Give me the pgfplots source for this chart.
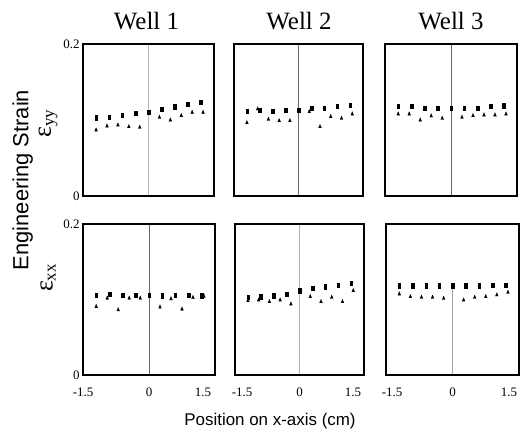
\documentclass[border=0pt]{standalone}
\usepackage{fontspec}
\setmainfont{Liberation Serif}
\setsansfont{Liberation Sans}
\usepackage{pgfplots}
\pgfplotsset{compat=1.18}
\pgfplotsset{
  panel/.style={scale only axis, xmin=-1.5, xmax=1.5, ymin=0, ymax=0.2, clip=false,
    axis line style={draw=none}, tick style={draw=none},
    xtick={-1.5,0,1.5}, ytick={0,0.2}, xticklabels={}, yticklabels={},
    yticklabel style={font=\fontsize{13}{13}\selectfont},
    xticklabel style={font=\fontsize{13}{13}\selectfont, yshift=-9bp},
    execute at end axis={\draw[line width=2.6bp, black] (rel axis cs:0,0) rectangle (rel axis cs:1,1);},
    anchor=south west},
  sq/.style={only marks, mark=square*, mark size=1.25bp, mark options={yscale=1.7, fill=black, draw=black, line width=0.3bp, solid}},
  tri/.style={only marks, mark=triangle*, mark size=1.6bp, mark options={yscale=1.4, fill=black, draw=black, line width=0.3bp, solid}},
  zline/.style={line width=0.8bp, no marks}
}
\begin{document}
\begin{tikzpicture}
\path[use as bounding box] (0,0) rectangle (525bp,437bp);
% ---------- top row ----------
\begin{axis}[panel, at={(83bp,241bp)}, width=131bp, height=152bp, yticklabels={0,0.2}]
\addplot[zline, gray!55] coordinates {(0,0) (0,0.2)};
\addplot[sq] coordinates {(-1.2,0.103) (-0.9,0.1035) (-0.6,0.106) (-0.3,0.109) (0,0.1105) (0.3,0.1145) (0.6,0.1175) (0.9,0.121) (1.2,0.1235)};
\addplot[tri] coordinates {(-1.2,0.0868) (-0.95,0.0921) (-0.7,0.0934) (-0.45,0.0912) (-0.2,0.0904) (0.25,0.1035) (0.5,0.100) (0.75,0.1057) (1.0,0.110) (1.25,0.110)};
\end{axis}
\begin{axis}[panel, at={(234bp,241bp)}, width=129bp, height=152bp]
\addplot[zline, gray!80!black] coordinates {(0,0) (0,0.2)};
\addplot[sq] coordinates {(-1.2,0.112) (-0.9,0.113) (-0.6,0.112) (-0.3,0.113) (0,0.113) (0.3,0.1155) (0.6,0.116) (0.9,0.118) (1.2,0.120)};
\addplot[tri] coordinates {(-1.2,0.0965) (-0.95,0.1145) (-0.7,0.1009) (-0.45,0.0991) (-0.2,0.0991) (0.25,0.111) (0.5,0.0912) (0.75,0.1044) (1.0,0.1022) (1.25,0.1079)};
\end{axis}
\begin{axis}[panel, at={(385bp,241bp)}, width=132bp, height=152bp]
\addplot[zline, gray!80!black] coordinates {(0,0) (0,0.2)};
\addplot[sq] coordinates {(-1.2,0.118) (-0.9,0.118) (-0.6,0.116) (-0.3,0.116) (0,0.116) (0.3,0.116) (0.6,0.116) (0.9,0.118) (1.2,0.119)};
\addplot[tri] coordinates {(-1.2,0.1079) (-0.95,0.1079) (-0.7,0.100) (-0.45,0.1053) (-0.2,0.1022) (0.25,0.1035) (0.5,0.1057) (0.75,0.1066) (1.0,0.1066) (1.25,0.1079)};
\end{axis}
% ---------- bottom row ----------
\begin{axis}[panel, at={(83bp,62bp)}, width=132bp, height=151bp, yticklabels={0,0.2},
  xticklabels={-1.5,0,{1.5\hspace*{24bp}}}]
\addplot[zline, gray!80!black] coordinates {(0,0) (0,0.2)};
\addplot[sq] coordinates {(-1.2,0.106) (-0.9,0.1073) (-0.6,0.106) (-0.3,0.106) (0,0.106) (0.3,0.105) (0.6,0.106) (0.9,0.106) (1.2,0.105)};
\addplot[tri] coordinates {(-1.2,0.0907) (-0.95,0.1018) (-0.7,0.0863) (-0.45,0.1018) (-0.2,0.1018) (0.25,0.0899) (0.5,0.1009) (0.75,0.0872) (1.0,0.1026) (1.25,0.104)};
\end{axis}
\begin{axis}[panel, at={(235bp,62bp)}, width=129bp, height=151bp,
  xticklabels={{\hspace*{14bp}-1.5},0,{1.5\hspace*{22bp}}}]
\addplot[zline, gray!60] coordinates {(0,0) (0,0.2)};
\addplot[sq] coordinates {(-1.2,0.1029) (-0.9,0.1037) (-0.6,0.105) (-0.3,0.1073) (0,0.1117) (0.3,0.1148) (0.6,0.117) (0.9,0.1192) (1.2,0.1214)};
\addplot[tri] coordinates {(-1.2,0.0984) (-0.95,0.0993) (-0.7,0.0971) (-0.45,0.0993) (-0.2,0.094) (0.25,0.1037) (0.5,0.0971) (0.75,0.1029) (1.0,0.0971) (1.25,0.1117)};
\end{axis}
\begin{axis}[panel, at={(386bp,62bp)}, width=133bp, height=151bp,
  xticklabels={{\hspace*{12bp}-1.5},0,{1.5\hspace*{20bp}}}]
\addplot[zline, gray!70] coordinates {(0,0) (0,0.117)};
\addplot[sq] coordinates {(-1.2,0.1183) (-0.9,0.1183) (-0.6,0.1183) (-0.3,0.1183) (0,0.1183) (0.3,0.1183) (0.6,0.1183) (0.9,0.1192) (1.2,0.1192)};
\addplot[tri] coordinates {(-1.2,0.1073) (-0.95,0.1037) (-0.7,0.1029) (-0.45,0.1029) (-0.2,0.1015) (0.25,0.0993) (0.5,0.1029) (0.75,0.1037) (1.0,0.106) (1.25,0.1095)};
\end{axis}
% ---------- labels ----------
\node[anchor=base, font=\fontsize{25}{25}\selectfont] at (146.5bp,407.7bp) {Well 1};
\node[anchor=base, font=\fontsize{25}{25}\selectfont] at (299bp,407.7bp) {Well 2};
\node[anchor=base, font=\fontsize{25}{25}\selectfont] at (451bp,407.7bp) {Well 3};
\node[rotate=90, anchor=base, font=\sffamily\fontsize{22}{22}\selectfont] at (28.4bp,257bp) {Engineering Strain};
\node[rotate=90, font=\fontsize{26}{26}\selectfont, inner sep=0pt] at (48bp,313.5bp) {ε\raisebox{-3bp}{\fontsize{17}{17}\selectfont yy}};
\node[rotate=90, font=\fontsize{26}{26}\selectfont, inner sep=0pt] at (48bp,159bp) {ε\raisebox{-3bp}{\fontsize{17}{17}\selectfont xx}};
\node[anchor=base, font=\sffamily\fontsize{17}{17}\selectfont] at (270bp,12bp) {Position on x-axis (cm)};
\end{tikzpicture}
\end{document}
